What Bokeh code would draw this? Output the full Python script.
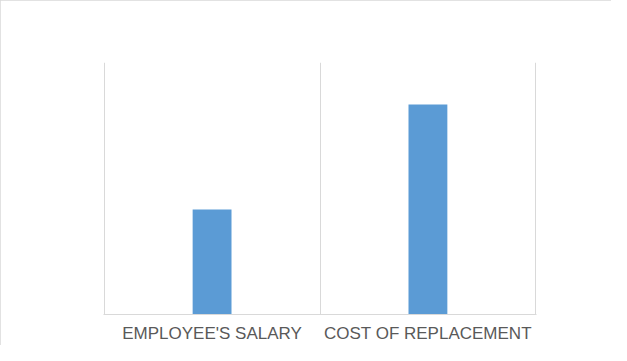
from bokeh.plotting import figure
from bokeh.models import Range1d, FixedTicker, ColumnDataSource
from bokeh.embed import file_html
from bokeh.resources import INLINE

# Data
categories = ["EMPLOYEE'S SALARY", "COST OF REPLACEMENT"]
values = [50000, 100000]
axis_max = 120000

idx = list(range(len(categories)))
centers = [i + 0.5 for i in idx]

src = ColumnDataSource(dict(x=centers, top=values))

pad = 0.003
p = figure(width=611, height=345, output_backend="svg", toolbar_location=None,
           x_range=Range1d(-pad, len(categories) + pad), y_range=Range1d(0, axis_max),
           y_axis_location=None, min_border_left=103, min_border_right=75,
           min_border_top=62, min_border_bottom=29)

p.vbar(x="x", top="top", width=0.18, bottom=0, source=src,
       fill_color="#5b9bd5", line_color=None)

p.ygrid.visible = False
p.xgrid.ticker = FixedTicker(ticks=[float(i) for i in range(len(categories) + 1)])
p.xgrid.grid_line_color = "#d9d9d9"
p.xgrid.grid_line_width = 1

p.xaxis.ticker = FixedTicker(ticks=centers)
p.xaxis.major_label_overrides = {c: name for c, name in zip(centers, categories)}
p.xaxis.axis_line_color = "#d9d9d9"
p.xaxis.major_tick_line_color = None
p.xaxis.minor_tick_line_color = None
p.xaxis.major_tick_out = 0
p.xaxis.major_tick_in = 0
p.xaxis.major_label_standoff = 9
p.xaxis.major_label_text_font = "Liberation Sans"
p.xaxis.major_label_text_font_size = "17px"
p.xaxis.major_label_text_color = "#595959"

p.outline_line_color = None
p.border_fill_color = "white"
p.background_fill_color = "white"
p.styles = {"outline": "2px solid #d9d9d9", "outline-offset": "-2px"}

open("out.html", "w").write(file_html(p, INLINE))
